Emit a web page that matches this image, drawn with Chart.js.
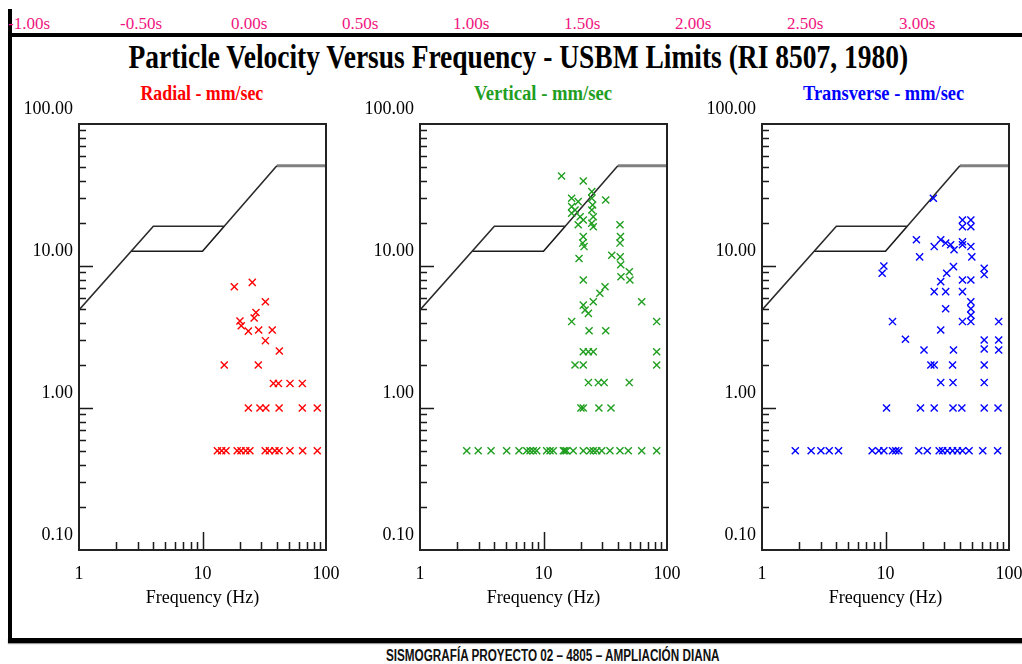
<!DOCTYPE html>
<html lang="en">
<head>
<meta charset="UTF-8">
<title>Particle Velocity Versus Frequency - USBM Limits</title>
<script src="https://cdn.jsdelivr.net/npm/chart.js@4.4.0/dist/chart.umd.min.js"></script>
<style>
  * { margin: 0; padding: 0; box-sizing: border-box; }
  body {
    width: 1022px; height: 664px; background: #fff;
    position: relative; overflow: hidden;
    font-family: 'Liberation Serif', 'DejaVu Serif', serif;
  }
  .abs { position: absolute; white-space: nowrap; line-height: 1; }
  .time { color: #f0157f; font-size: 17px; top: 15px; }
  .title { font-weight: bold; font-size: 34px; color: #000; top: 40px; }
  .sub { font-weight: bold; font-size: 20px; top: 83px; }
  .bar { position: absolute; background: #000; }
  .footer {
    font-family: 'Liberation Sans Narrow', 'Liberation Sans', sans-serif;
    font-weight: bold; font-size: 16px; top: 648px; color: #111;
  }
  .plot { position: absolute; top: 90px; width: 340px; height: 530px; }
</style>
</head>
<body>
  <div class="bar" style="left:8px; top:9px; width:4px; height:634px;"></div>
  <div class="bar" style="left:8px; top:33px; width:1014px; height:4px;"></div>
  <div class="bar" style="left:8px; top:638px; width:1014px; height:5px; box-shadow:0 1px 1px #999;"></div>

  <div id="times"></div>
  <div class="abs title" id="title">Particle Velocity Versus Frequency - USBM Limits (RI 8507, 1980)</div>
  <div class="abs sub" id="sub0" style="color:#ff0000;">Radial - mm/sec</div>
  <div class="abs sub" id="sub1" style="color:#1f9e1f;">Vertical - mm/sec</div>
  <div class="abs sub" id="sub2" style="color:#0000ff;">Transverse - mm/sec</div>

  <div class="plot" style="left:0px;"><canvas id="radialChart" width="340" height="530"></canvas></div>
  <div class="plot" style="left:341px;"><canvas id="verticalChart" width="340" height="530"></canvas></div>
  <div class="plot" style="left:683px;"><canvas id="transverseChart" width="340" height="530"></canvas></div>

  <div class="abs footer" id="footer">SISMOGRAFÍA PROYECTO 02 – 4805 – AMPLIACIÓN DIANA</div>

<script>
// tick labels
const timeLabels = ['-1.00s', '-0.50s', '0.00s', '0.50s', '1.00s', '1.50s', '2.00s', '2.50s', '3.00s'];
const xTicks = [1, 10, 100];
const yTicks = [0.1, 1, 10, 100];

// USBM RI 8507 limit curve (mm/sec)
const limitUpperFreq = [1, 4, 15, 40];
const limitUpperVel = [4.9, 19.05, 19.05, 50.8];
const limitLowerFreq = [2.65, 10, 15];
const limitLowerVel = [12.7, 12.7, 19.05];
const limitCapFreq = [40, 100];
const limitCapVel = [50.8, 50.8];

// Radial
const radialFreq = [18.1, 25.3, 32.3, 27.1, 26.2, 20.1, 20.6, 23.5, 28.5, 36.7, 32.3, 41.9, 15.0, 28.3,
  37.5, 41.2, 51.1, 64.3, 23.5, 29.2, 32.6, 41.7, 64.3, 85,
  13.2, 14.3, 15.5, 19.1, 20.5, 22.4, 24.2, 32.2, 34.8, 38.6, 41.7, 51.1, 64.7, 85];
const radialVel = [7.15, 7.67, 5.6, 4.7, 4.3, 4.1, 3.8, 3.48, 3.54, 3.54, 2.98, 2.52, 2.01, 2.01,
  1.49, 1.49, 1.49, 1.49, 1, 1, 1, 1, 1, 1,
  0.5, 0.5, 0.5, 0.5, 0.5, 0.5, 0.5, 0.5, 0.5, 0.5, 0.5, 0.5, 0.5, 0.5];

// Vertical
const verticalFreq = [14.0, 21.0, 24.6, 16.9, 19.1, 16.9, 18.0, 16.9, 19.8, 21.0, 19.1, 24.6, 25.0, 24.6,
  25.3, 24.6, 25.3, 31.9, 21.0, 20.8, 21.3, 19.4, 41.6, 42.0, 41.6, 41.8, 42.2, 35.7, 42.4, 49.5,
  50.1, 21.0, 31.5, 28.6, 25.3, 21.0, 21.7, 23.1, 62.4, 16.9, 82.5, 23.4, 31.9,
  21.0, 23.1, 25.3, 82.5, 18.0, 21.0, 82.5, 23.1, 27.8, 31.0, 49.5, 20.1, 21.0, 28.1, 35.2,
  2.39, 2.96, 3.76, 5.03, 6.33, 7.31, 7.78, 8.27, 8.81, 10.6, 11.3, 12.0, 14.5, 14.9, 15.4, 17.4,
  21.0, 23.8, 25.3, 27.0, 29.6, 34.5, 41.6, 48.6, 62.4, 82.5];
const verticalVel = [43, 39.7, 33.4, 30.0, 28.4, 26.2, 24.8, 23.5, 22.2, 21.1, 19.5, 30.0, 26.9, 24.8,
  22.2, 20.0, 18.9, 29.2, 16.1, 14.5, 13.7, 11.3, 19.5, 16.1, 14.5, 11.6, 10.2, 11.9, 8.4, 9.1,
  7.96, 7.96, 7.15, 6.43, 5.6, 5.3, 4.9, 4.64, 5.6, 4.06, 4.06, 3.5, 3.5,
  2.49, 2.49, 2.49, 2.49, 2.01, 2.01, 2.01, 1.51, 1.51, 1.51, 1.51, 1, 1, 1, 1,
  0.5, 0.5, 0.5, 0.5, 0.5, 0.5, 0.5, 0.5, 0.5, 0.5, 0.5, 0.5, 0.5, 0.5, 0.5, 0.5,
  0.5, 0.5, 0.5, 0.5, 0.5, 0.5, 0.5, 0.5, 0.5, 0.5];

// Transverse
const transverseFreq = [24.4, 42.0, 49.1, 42.0, 49.1, 17.8, 18.9, 24.8, 28.0, 30.7, 33.7, 35.9, 42.0, 42.0,
  49.1, 50.0, 9.7, 9.4, 35.5, 31.3, 28.0, 24.8, 30.7, 42.0, 49.1, 42.0, 63.0, 63.0, 49.1, 49.1,
  49.1, 30.7, 11.4, 42.0, 49.1, 82.5, 14.5, 28.0, 63.0, 82.5, 20.5, 35.5, 63.0, 82.5,
  23.3, 24.8, 34.9, 63.0, 28.0, 35.2, 63.0, 10.2, 19.2, 24.8, 35.2, 41.5, 63.0, 81.5,
  1.86, 2.5, 3.0, 3.5, 4.17, 7.8, 8.83, 9.7, 11.4, 12.1, 12.8, 18.6, 21.8, 27.2, 29.0, 31.7,
  34.9, 38.2, 42.0, 47.5, 61.3, 80.9];
const transverseVel = [30.0, 21.1, 21.1, 18.9, 18.9, 15.3, 11.6, 13.7, 15.3, 14.5, 14.1, 13.0, 14.8, 14.1,
  13.7, 11.6, 10.0, 8.9, 9.9, 8.9, 7.76, 6.6, 6.6, 7.96, 7.96, 6.6, 9.65, 8.7, 5.6, 5.0,
  4.5, 5.0, 4.06, 4.06, 4.06, 4.06, 3.05, 3.54, 3.01, 3.01, 2.56, 2.56, 2.6, 2.56,
  2.01, 2.01, 2.01, 2.01, 1.51, 1.51, 1.51, 1, 1, 1, 1, 1, 1, 1,
  0.5, 0.5, 0.5, 0.5, 0.5, 0.5, 0.5, 0.5, 0.5, 0.5, 0.5, 0.5, 0.5, 0.5, 0.5, 0.5,
  0.5, 0.5, 0.5, 0.5, 0.5, 0.5];

const toPoints = (xs, ys) => xs.map((x, i) => ({ x: x, y: ys[i] }));

// html text placement
const fitCenter = (el, cx, width) => {
  const w = el.offsetWidth;
  el.style.left = (cx - w / 2) + 'px';
  if (width) el.style.transform = 'scaleX(' + (width / w) + ')';
};

const timeRight = [50, 162, 267, 378, 489, 600, 711, 823, 935];
const timesBox = document.getElementById('times');
timeLabels.forEach((t, i) => {
  const d = document.createElement('div');
  d.className = 'abs time';
  d.textContent = t;
  timesBox.appendChild(d);
  d.style.left = (timeRight[i] - d.offsetWidth) + 'px';
});

fitCenter(document.getElementById('title'), 518, 780);
fitCenter(document.getElementById('sub0'), 202, 123);
fitCenter(document.getElementById('sub1'), 543, 138);
fitCenter(document.getElementById('sub2'), 883, 161);
fitCenter(document.getElementById('footer'), 553, 334);

// frame box + inside log tick marks
const frameTicks = {
  id: 'frameTicks',
  afterDraw(chart) {
    const { ctx, chartArea: a, scales } = chart;
    const x = scales.x, y = scales.y;
    ctx.save();
    ctx.strokeStyle = '#1a1a1a';
    ctx.lineWidth = 1.5;
    ctx.beginPath();
    [0.1, 1, 10].forEach(dec => {
      for (let m = 1; m < 10; m++) {
        if (dec === 0.1 && m === 1) continue;
        const py = Math.round(y.getPixelForValue(dec * m)) + 0.5;
        const len = m === 1 ? 14 : 7;
        ctx.moveTo(a.left, py);
        ctx.lineTo(a.left + len, py);
      }
    });
    [1, 10].forEach(dec => {
      for (let m = 1; m < 10; m++) {
        if (dec === 1 && m === 1) continue;
        const px = Math.round(x.getPixelForValue(dec * m)) + 0.5;
        const len = m === 1 ? 18 : 8;
        ctx.moveTo(px, a.bottom);
        ctx.lineTo(px, a.bottom - len);
      }
    });
    ctx.stroke();
    ctx.lineWidth = 2;
    ctx.strokeStyle = '#222';
    ctx.strokeRect(a.left, a.top, a.right - a.left, a.bottom - a.top);
    ctx.restore();
  }
};

const labelFont = { family: "'Liberation Serif', serif", size: 18 };

function makeChart(id, freq, vel, color) {
  return new Chart(document.getElementById(id), {
    type: 'scatter',
    data: {
      datasets: [
        {
          data: toPoints(freq, vel),
          pointStyle: 'crossRot',
          pointRadius: 5,
          borderColor: color,
          backgroundColor: color,
          pointBorderWidth: 1.4
        },
        {
          data: toPoints(limitUpperFreq, limitUpperVel),
          showLine: true, pointRadius: 0,
          borderColor: '#2a2a2a', borderWidth: 1.6
        },
        {
          data: toPoints(limitLowerFreq, limitLowerVel),
          showLine: true, pointRadius: 0,
          borderColor: '#1a1a1a', borderWidth: 1.6
        },
        {
          data: toPoints(limitCapFreq, limitCapVel),
          showLine: true, pointRadius: 0,
          borderColor: '#808080', borderWidth: 3
        }
      ]
    },
    options: {
      responsive: false,
      animation: false,
      layout: { padding: { left: 0, top: 34, right: 14, bottom: 0 } },
      plugins: { legend: { display: false }, tooltip: { enabled: false } },
      scales: {
        x: {
          type: 'logarithmic',
          min: 1, max: 100,
          grid: { display: false, drawTicks: false },
          border: { display: false },
          afterBuildTicks: s => { s.ticks = xTicks.map(v => ({ value: v })); },
          afterFit: s => { s.height = 70; s.paddingLeft = 0; s.paddingRight = 0; },
          ticks: {
            color: '#000', font: labelFont, padding: 13,
            maxRotation: 0, autoSkip: false,
            callback: v => String(v)
          },
          title: {
            display: true, text: 'Frequency (Hz)', color: '#000',
            font: labelFont, padding: { top: 3, bottom: 11 }
          }
        },
        y: {
          type: 'logarithmic',
          min: 0.1, max: 100,
          grid: { display: false, drawTicks: false },
          border: { display: false },
          afterBuildTicks: s => { s.ticks = yTicks.map(v => ({ value: v })); },
          afterFit: s => { s.width = 79; s.paddingTop = 0; s.paddingBottom = 0; },
          ticks: {
            color: '#000', font: labelFont, padding: 6,
            labelOffset: -15, autoSkip: false,
            callback: v => Number(v).toFixed(2)
          }
        }
      }
    },
    plugins: [frameTicks]
  });
}

makeChart('radialChart', radialFreq, radialVel, '#ff0000');
makeChart('verticalChart', verticalFreq, verticalVel, '#1f9e1f');
makeChart('transverseChart', transverseFreq, transverseVel, '#0000ff');
</script>
</body>
</html>
